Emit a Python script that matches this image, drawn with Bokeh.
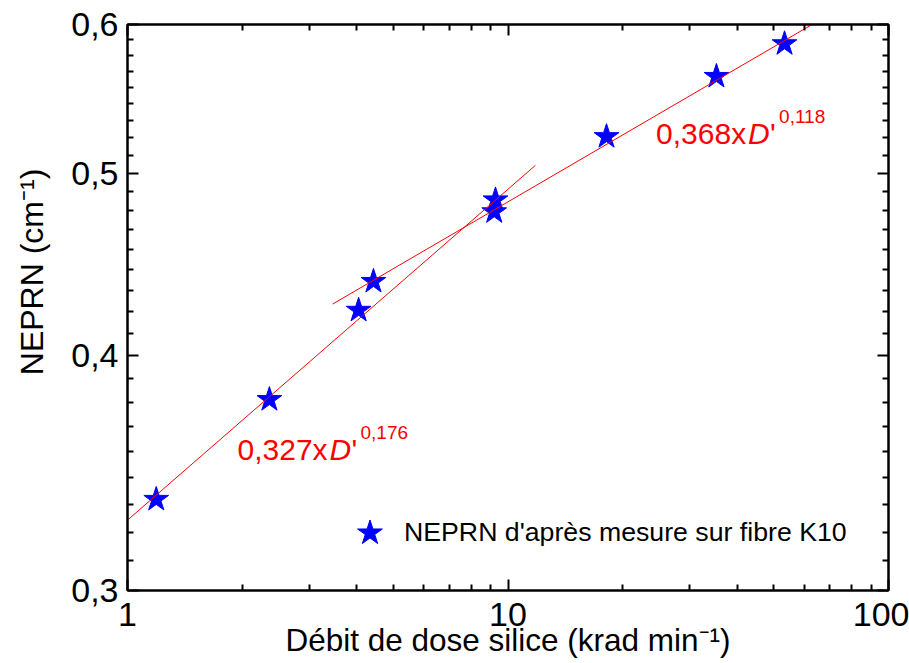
import numpy as np
from bokeh.plotting import figure
from bokeh.models import (LogAxis, FixedTicker, Label, Legend, LegendItem,
                          Range1d, CustomJSTickFormatter)
from bokeh.embed import file_html
from bokeh.resources import INLINE

# ---- data ----
dose_rate = [1.19, 2.36, 4.05, 4.43, 9.27, 9.2, 18.15, 35.3, 53.3]
neprn = [0.3354, 0.379, 0.4228, 0.438, 0.484, 0.477, 0.523, 0.563, 0.586]

fit1_coef, fit1_exp = 0.327, 0.176
fit1_x = [1.0, 11.8]
fit2_coef, fit2_exp = 0.368, 0.118
fit2_x = [3.46, 65.0]

x_major = [1, 10, 100]
x_minor = [2, 3, 4, 5, 6, 7, 8, 9, 20, 30, 40, 50, 60, 70, 80, 90]
y_major = [0.3, 0.4, 0.5, 0.6]

legend_label = "NEPRN d'après mesure sur fibre K10"
x_label = "Débit de dose silice (krad min⁻¹)"
y_label = "NEPRN (cm⁻¹)"

# minor ticks: 8 per major interval, evenly spaced in value (Origin style)
y_minor = [a + k * (b - a) / 9 for a, b in zip(y_major[:-1], y_major[1:]) for k in range(1, 9)]

FONT = "Liberation Sans"

p = figure(width=909, height=663, x_axis_type="log", y_axis_type="log",
           x_range=Range1d(1, 100), y_range=Range1d(0.3, 0.6),
           output_backend="svg", toolbar_location=None,
           min_border_left=127, min_border_right=21,
           min_border_top=24, min_border_bottom=73)
p.grid.visible = False
p.outline_line_color = "black"
p.outline_line_width = 2
p.background_fill_color = "white"
p.border_fill_color = "white"

fmt_y = CustomJSTickFormatter(code="return tick.toFixed(1).replace('.', ',');")
fmt_x = CustomJSTickFormatter(code="return tick.toFixed(0);")
fmt_blank = CustomJSTickFormatter(code="return '';")


def style_axis(ax):
    ax.axis_line_width = 2
    ax.axis_line_color = "black"
    ax.major_tick_in = 11
    ax.major_tick_out = 0
    ax.minor_tick_in = 6
    ax.minor_tick_out = 0
    ax.major_tick_line_width = 2
    ax.minor_tick_line_width = 2
    ax.major_tick_line_color = "black"
    ax.minor_tick_line_color = "black"
    ax.major_label_text_font = FONT
    ax.major_label_text_color = "black"
    ax.axis_label_text_font = FONT
    ax.axis_label_text_font_style = "normal"
    ax.axis_label_text_color = "black"


xa = p.xaxis[0]
xa.ticker = FixedTicker(ticks=x_major, minor_ticks=x_minor)
xa.formatter = fmt_x
style_axis(xa)
xa.major_label_text_font_size = "34px"
xa.major_label_standoff = 12
xa.axis_label = x_label
xa.axis_label_text_font_size = "31.5px"
xa.axis_label_standoff = -7

ya = p.yaxis[0]
ya.ticker = FixedTicker(ticks=y_major, minor_ticks=y_minor)
ya.formatter = fmt_y
style_axis(ya)
ya.major_label_text_font_size = "34px"
ya.major_label_standoff = 9
ya.axis_label = "\u00a0" * 8 + y_label
ya.axis_label_text_font_size = "32px"
ya.axis_label_standoff = 18

top = LogAxis(ticker=FixedTicker(ticks=x_major, minor_ticks=x_minor), formatter=fmt_blank)
style_axis(top)
top.major_label_standoff = 0
p.add_layout(top, "above")
right = LogAxis(ticker=FixedTicker(ticks=y_major, minor_ticks=y_minor), formatter=fmt_blank)
style_axis(right)
right.major_label_standoff = 0
p.add_layout(right, "right")

# data points
r = p.scatter(dose_rate, neprn, marker="star", size=26, fill_color="blue",
              line_color="blue")

# power-law fits (straight lines on log-log axes)
fit1_y = [fit1_coef * x ** fit1_exp for x in fit1_x]
fit2_y = [fit2_coef * x ** fit2_exp for x in fit2_x]
p.line(fit1_x, fit1_y, line_color="#ff0000", line_width=1)
p.line(fit2_x, fit2_y, line_color="#ff0000", line_width=1)


# equations
def equation(x, y, coef_txt, exp_txt, dy):
    F = "30px"
    p.add_layout(Label(x=x, y=y, y_offset=dy, text=coef_txt + "x", text_font=FONT,
                       text_font_size=F, text_color="#ff0000", text_baseline="alphabetic"))
    p.add_layout(Label(x=x, y=y, x_offset=92, y_offset=dy, text="D", text_font=FONT,
                       text_font_size=F, text_font_style="italic", text_color="#ff0000",
                       text_baseline="alphabetic"))
    p.add_layout(Label(x=x, y=y, x_offset=114, y_offset=dy, text="'", text_font=FONT,
                       text_font_size=F, text_color="#ff0000", text_baseline="alphabetic"))
    p.add_layout(Label(x=x, y=y, x_offset=123, y_offset=dy + 17, text=exp_txt,
                       text_font=FONT, text_font_size="19px", text_color="#ff0000",
                       text_baseline="alphabetic"))


equation(1.946, 0.352, "0,327", "0,176", 10)
equation(24.5, 0.5174, "0,368", "0,118", 12)

legend = Legend(items=[LegendItem(label=legend_label, renderers=[r])],
                location=(210, 25), border_line_color=None,
                background_fill_alpha=0, label_text_font=FONT,
                label_text_font_size="26.7px", label_text_color="black",
                glyph_width=65, glyph_height=65, padding=0, margin=0,
                label_standoff=2)
p.add_layout(legend)

open("out.html", "w").write(file_html(p, INLINE))
